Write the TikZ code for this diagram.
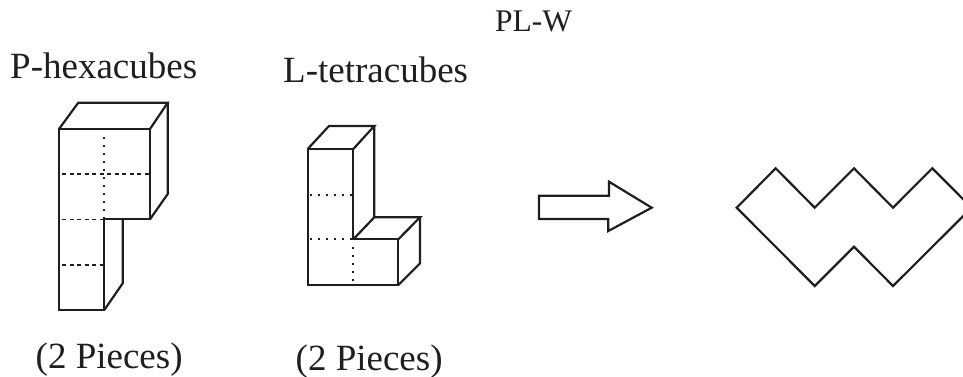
\documentclass[tikz,border=0pt]{standalone}
\usepackage{fontspec}
\setmainfont{Liberation Serif}
\definecolor{ink}{gray}{0.12}
\tikzset{
  outl/.style={draw=ink,line width=2.2pt,line join=miter},
  dash1/.style={draw=ink,line width=1.6pt,dash pattern=on 4pt off 3.5pt},
  dot1/.style={draw=ink,line width=2.3pt,dash pattern=on 2.3pt off 5.7pt},
  lab/.style={inner sep=0pt,anchor=base west,text=ink}
}
\begin{document}
\begin{tikzpicture}[x=1pt,y=-1pt]
\useasboundingbox (0,0) rectangle (963,377);
\begin{scope}
\clip (0,0) rectangle (963,377);
% P-hexacube
\draw[dash1] (62,174) -- (150,174);
\draw[dash1] (62,219.3) -- (104.3,219.3);
\draw[dash1] (62,264.7) -- (104.3,264.7);
\draw[dot1] (104.3,137) -- (104.3,219);
\draw[outl] (59,129) -- (150,129) -- (150,219.3) -- (104.3,219.3) -- (104.3,310) -- (59,310) -- cycle;
\draw[outl] (59,129) -- (78.3,102.7) -- (167.7,102.7) -- (150,129);
\draw[outl] (167.7,102.7) -- (167.7,194) -- (150,219.3);
\draw[outl] (122.7,219.3) -- (122.7,283.3) -- (104.3,310);
% L-tetracube
\draw[dot1] (310,195) -- (353,195);
\draw[dot1] (310,239.3) -- (353,239.3);
\draw[dot1] (353.3,247) -- (353.3,285);
\draw[outl] (307.7,149) -- (353.3,149) -- (353.3,239.3) -- (398.3,239.3) -- (398.3,285) -- (307.7,285) -- cycle;
\draw[outl] (307.7,149) -- (329,126) -- (374.3,126) -- (353.3,149);
\draw[outl] (374.3,126) -- (374.3,217.3) -- (353.3,239.3);
\draw[outl] (374.3,217.3) -- (420,217.3) -- (398.3,239.3);
\draw[outl] (420,217.3) -- (420,263.3) -- (398.3,285);
% arrow
\draw[outl] (539,195.7) -- (609,195.7) -- (609,181.7) -- (651.7,207.7) -- (608.3,231) -- (608.3,219) -- (539,219) -- cycle;
% W
\draw[outl] (736.7,207.7) -- (775.7,168.3) -- (814.7,207.7) -- (854,168.3) -- (893,207.7) -- (932.3,168.3) -- (971.6,207.7) -- (893,286) -- (854,246.7) -- (814.7,286) -- cycle;
\end{scope}
\node[lab,font=\fontsize{31.5}{34}\selectfont] (t0) at (495,32) {PL-W};
\node[lab,font=\fontsize{37}{40}\selectfont] (t1) at (10,79) {P-hexacubes};
\node[lab,font=\fontsize{37}{40}\selectfont] (t2) at (283,83) {L-tetracubes};
\node[lab,font=\fontsize{37}{40}\selectfont] (t3) at (35.5,368) {(2 Pieces)};
\node[lab,font=\fontsize{37}{40}\selectfont] (t4) at (295.5,370.7) {(2 Pieces)};
\end{tikzpicture}
\end{document}
